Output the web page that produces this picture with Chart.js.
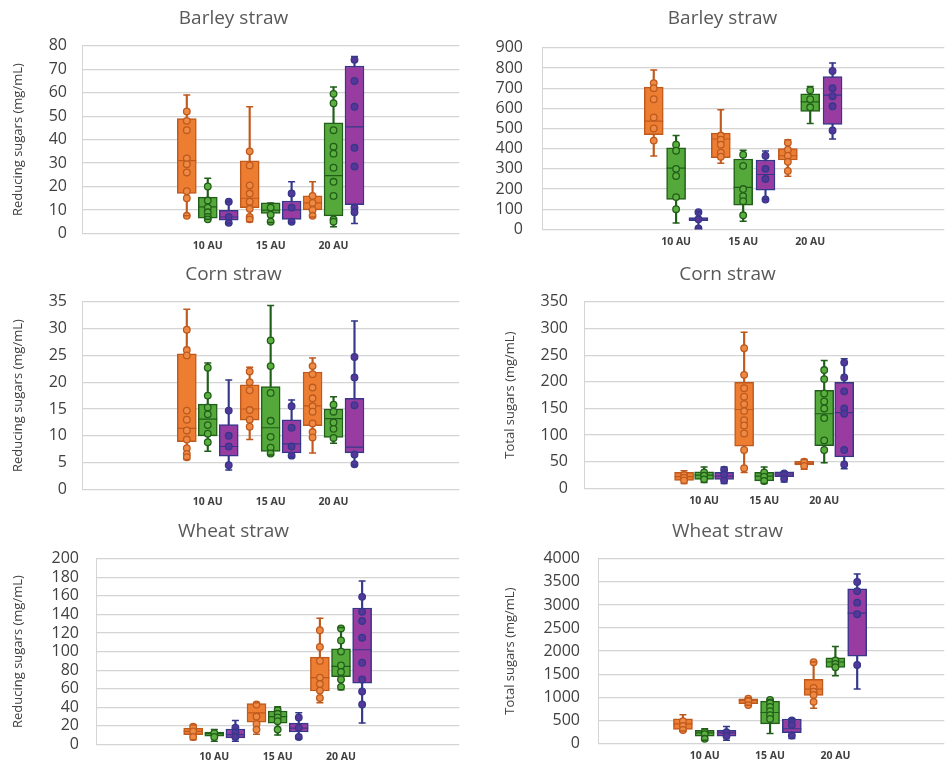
<!DOCTYPE html>
<html>
<head>
<meta charset="utf-8">
<script src="https://cdn.jsdelivr.net/npm/chart.js@4.4.1/dist/chart.umd.min.js"></script>
<style>
  html, body { margin: 0; padding: 0; background: #fff; overflow: hidden; width: 945px; height: 772px; }
  canvas { position: absolute; }
</style>
</head>
<body>
<canvas id="barleyRs" width="470" height="258" style="left:0;top:0"></canvas>
<canvas id="barleyTs" width="465" height="258" style="left:490px;top:0"></canvas>
<canvas id="cornRs" width="470" height="258" style="left:0;top:256px"></canvas>
<canvas id="cornTs" width="455" height="258" style="left:500px;top:256px"></canvas>
<canvas id="wheatRs" width="470" height="258" style="left:0;top:513px"></canvas>
<canvas id="wheatTs" width="455" height="258" style="left:500px;top:513px"></canvas>
<script>
const categories = ['10 AU', '15 AU', '20 AU'];

// box stats per category: [min, q1, median, q3, max]
// Barley straw - reducing sugars
const brsOrange = [[7.5, 17, 31, 49, 59], [5, 11, 15, 31, 54], [7, 10, 13, 16, 22]];
const brsGreen = [[6, 6.5, 11.3, 15.5, 23.5], [4.6, 8.5, 9.9, 13, 13], [2.8, 7.5, 24.6, 47.2, 62.4]];
const brsPurple = [[4.2, 5.6, 7, 9.8, 13.6], [4.6, 6, 10, 13.8, 22], [4.2, 12.3, 45.4, 71.4, 75.4]];
const brsOrangePts = [[52, 48, 44, 32, 29.5, 26, 18, 15, 7.5], [35, 29, 20.5, 17, 13.5, 10.5, 7, 6], [16, 13, 10, 7.5]];
const brsGreenPts = [[20, 14, 11, 9, 7, 6], [11, 8, 5], [59.5, 55.5, 44, 37, 34, 28, 22, 16, 6, 5]];
const brsPurplePts = [[13.5, 7, 4.5], [17, 11, 5], [74, 65, 54, 36.5, 28.5, 11, 9]];

// Barley straw - total sugars
const btsOrange = [[364, 469, 537, 705, 790], [328, 356, 448, 477, 593], [264, 344, 365, 400, 444]];
const btsGreen = [[32, 149, 304, 404, 465], [40, 120, 208, 349, 392], [525, 585, 632, 672, 708]];
const btsPurple = [[5, 43, 51, 59, 88], [149, 195, 272, 344, 388], [448, 520, 665, 757, 825]];
const btsOrangePts = [[725, 700, 645, 555, 500, 440], [465, 445, 420, 380, 360], [430, 395, 365, 335, 290]];
const btsGreenPts = [[420, 390, 300, 265, 160, 100], [370, 315, 200, 165, 140, 70], [690, 645, 605]];
const btsPurplePts = [[85, 50, 5], [365, 300, 250, 148], [785, 700, 660, 610, 490]];

// Corn straw - reducing sugars
const crsOrange = [[5.6, 8.9, 11.4, 25.3, 33.6], [9.3, 12.9, 15, 19.5, 22.8], [6.8, 11.9, 15.6, 21.9, 24.5]];
const crsGreen = [[7.1, 10, 13.1, 15.9, 23.6], [6.4, 7.1, 11.5, 19.2, 34.3], [8.6, 9.7, 13.2, 15, 17.3]];
const crsPurple = [[3.6, 6.2, 8, 12.1, 20.4], [6, 6.8, 8.5, 13, 16.7], [4.5, 6.8, 7.9, 17, 31.4]];
const crsOrangePts = [[29.8, 26, 25, 14.7, 13, 11, 9.3, 7.7, 6.6, 6], [22, 20, 18.5, 14.8, 13, 11.7], [23, 21.5, 19, 17, 15.5, 14.5, 12.3, 10.7, 9.7]];
const crsGreenPts = [[22.7, 17.5, 15.3, 14, 12, 10.4, 8.8], [27.8, 23, 18, 12.8, 9.8, 7.8, 6.7], [15.8, 14.5, 12.5, 11.3, 9.6]];
const crsPurplePts = [[14.7, 10, 8, 4.5], [15.5, 11.5, 8, 6.3], [24.7, 20.9, 15.7, 6.5, 4.7]];

// Corn straw - total sugars
const ctsOrange = [[9, 15, 22, 30, 33], [30, 79, 148, 199, 293], [36, 44, 47, 51, 54]];
const ctsGreen = [[11, 17, 25, 31, 40], [9, 14, 23, 30, 40], [48, 80, 140, 184, 240]];
const ctsPurple = [[9, 17, 23, 30, 40], [12, 22, 27, 31, 31], [37, 59, 142, 199, 243]];
const ctsOrangePts = [[25, 20, 15], [263, 213, 188, 172, 158, 145, 128, 118, 103, 72, 38], [50, 42]];
const ctsGreenPts = [[30, 24, 17], [30, 22, 14], [222, 205, 178, 163, 150, 132, 90, 72]];
const ctsPurplePts = [[35, 26, 15], [28, 18], [236, 208, 182, 150, 140, 72, 45]];

// Wheat straw - reducing sugars
const wrsOrange = [[5, 10.6, 14, 17.6, 21], [11, 24, 34, 44, 45], [45, 57.5, 72, 94, 136]];
const wrsGreen = [[3.5, 8.8, 11.6, 13.4, 16], [10, 23, 30, 36, 40.6], [59, 73, 84, 103, 126]];
const wrsPurple = [[3.5, 7, 10.6, 16.6, 25.7], [6, 13.4, 17.6, 23, 34], [23, 66, 102, 147, 176]];
const wrsOrangePts = [[19, 14, 8], [43, 30, 22, 16], [123, 105, 90, 72, 65, 58, 50]];
const wrsGreenPts = [[12, 8], [37, 33, 29, 25, 16], [125, 112, 100, 85, 78, 70, 62]];
const wrsPurplePts = [[18, 13, 8], [29, 18, 8], [159, 143, 133, 115, 88, 70, 57, 43]];

// Wheat straw - total sugars
const wtsOrange = [[268, 303, 423, 530, 620], [825, 860, 931, 966, 988], [762, 1037, 1178, 1390, 1764]];
const wtsGreen = [[70, 155, 226, 282, 317], [212, 423, 670, 917, 952], [1467, 1644, 1764, 1855, 2102]];
const wtsPurple = [[70, 155, 226, 282, 367], [106, 233, 317, 529, 529], [1178, 1890, 2822, 3351, 3668]];
const wtsOrangePts = [[480, 380, 290], [970, 920, 830], [1760, 1200, 1120, 1050, 900]];
const wtsGreenPts = [[250, 200, 100], [940, 870, 790, 700, 610, 530], [1800, 1720, 1650]];
const wtsPurplePts = [[240, 160], [500, 400, 170], [3500, 3300, 3050, 2800, 1700]];

const seriesStyle = [
  { fill: '#ED7D31', line: '#BF5A1E', dot: '#EF8A45' },
  { fill: '#55A83A', line: '#215E1A', dot: '#5BB03F' },
  { fill: '#983CA2', line: '#35388A', dot: '#55369A' }
];

// orange left of the category, green on it, purple right
function pos(cat, s) { return 6 + cat * 3 + s - 1; }

function buildPanel(id, p) {
  const datasets = [];
  p.boxes.forEach((stats, s) => {
    const st = seriesStyle[s];
    // whisker
    datasets.push({
      type: 'bar', order: 5, grouped: false, barThickness: 1.5,
      data: stats.map((b, i) => ({ x: pos(i, s), y: [b[0], b[4]] })),
      backgroundColor: st.line
    });
    // box
    datasets.push({
      type: 'bar', order: 4, grouped: false, barThickness: 19,
      data: stats.map((b, i) => ({ x: pos(i, s), y: [b[1], b[3]] })),
      backgroundColor: st.fill, borderColor: st.line, borderWidth: 1.5, borderSkipped: false
    });
    // median
    datasets.push({
      type: 'scatter', order: 3,
      data: stats.map((b, i) => ({ x: pos(i, s), y: b[2] })),
      pointStyle: 'line', pointRadius: 9.5, pointBorderColor: st.line, pointBorderWidth: 1.2
    });
    // data points
    datasets.push({
      type: 'scatter', order: 2,
      data: p.pts[s].flatMap((vals, i) => vals.map(v => ({ x: pos(i, s), y: v }))),
      pointStyle: 'circle', pointRadius: 3.3, pointBackgroundColor: st.dot,
      pointBorderColor: st.line, pointBorderWidth: 1.3
    });
    // whisker caps
    datasets.push({
      type: 'scatter', order: 1,
      data: stats.flatMap((b, i) => [{ x: pos(i, s), y: b[0] }, { x: pos(i, s), y: b[4] }]),
      pointStyle: 'line', pointRadius: 3.5, pointBorderColor: st.line, pointBorderWidth: 1.5
    });
  });

  new Chart(document.getElementById(id), {
    type: 'bar',
    data: { datasets },
    options: {
      responsive: false,
      animation: false,
      layout: { padding: { left: 0, right: p.padRight, top: 0, bottom: 0 } },
      plugins: {
        legend: { display: false },
        tooltip: { enabled: false },
        title: {
          display: true, text: p.title, color: '#595959',
          font: { family: 'Open Sans', size: 19, weight: 'normal' },
          padding: { top: 7, bottom: p.titleBottom }
        }
      },
      scales: {
        x: {
          type: 'linear', min: p.xMin, max: p.xMax, offset: false,
          grid: { display: false, drawTicks: false },
          border: { display: false },
          afterBuildTicks: sc => { sc.ticks = categories.map((c, i) => ({ value: pos(i, 1) })); },
          afterFit: sc => { sc.height = 23; },
          ticks: {
            autoSkip: false, maxRotation: 0, padding: 6, color: '#404040',
            font: { family: 'Open Sans', size: 10.5, weight: 'bold' },
            callback: (v, i) => categories[i]
          }
        },
        y: {
          min: 0, max: p.yMax,
          afterFit: sc => { sc.width = p.axisW; },
          grid: { color: '#d4d4d4', lineWidth: 1.2, drawTicks: false },
          border: { display: true, color: '#d4d4d4' },
          ticks: {
            stepSize: p.yStep, padding: p.tickPad, color: '#404040', autoSkip: false,
            font: { family: 'Open Sans', size: 16 },
            callback: v => String(v)
          },
          title: {
            display: !!p.yTitle, text: p.yTitle, color: '#404040',
            font: { family: 'Open Sans', size: 13 },
            padding: { top: p.yTitlePad, bottom: 0 }
          }
        }
      }
    }
  });
}

buildPanel('barleyRs', {
  title: 'Barley straw', yTitle: 'Reducing sugars (mg/mL)', yMax: 80, yStep: 10,
  boxes: [brsOrange, brsGreen, brsPurple], pts: [brsOrangePts, brsGreenPts, brsPurplePts],
  xMin: 0, xMax: 18, axisW: 82, padRight: 3, tickPad: 15, yTitlePad: 10.5, titleBottom: 16
});
buildPanel('barleyTs', {
  title: 'Barley straw', yTitle: '', yMax: 900, yStep: 100,
  boxes: [btsOrange, btsGreen, btsPurple], pts: [btsOrangePts, btsGreenPts, btsPurplePts],
  xMin: 0, xMax: 18, axisW: 52, padRight: 0, tickPad: 19, yTitlePad: 0, titleBottom: 18
});
buildPanel('cornRs', {
  title: 'Corn straw', yTitle: 'Reducing sugars (mg/mL)', yMax: 35, yStep: 5,
  boxes: [crsOrange, crsGreen, crsPurple], pts: [crsOrangePts, crsGreenPts, crsPurplePts],
  xMin: 0, xMax: 18, axisW: 82, padRight: 3, tickPad: 15, yTitlePad: 10.5, titleBottom: 16
});
buildPanel('cornTs', {
  title: 'Corn straw', yTitle: 'Total sugars (mg/mL)', yMax: 350, yStep: 50,
  boxes: [ctsOrange, ctsGreen, ctsPurple], pts: [ctsOrangePts, ctsGreenPts, ctsPurplePts],
  xMin: 0, xMax: 18, axisW: 84, padRight: 0, tickPad: 16, yTitlePad: 2.5, titleBottom: 16
});
buildPanel('wheatRs', {
  title: 'Wheat straw', yTitle: 'Reducing sugars (mg/mL)', yMax: 200, yStep: 20,
  boxes: [wrsOrange, wrsGreen, wrsPurple], pts: [wrsOrangePts, wrsGreenPts, wrsPurplePts],
  xMin: 0.4, xMax: 17.6, axisW: 96, padRight: 3, tickPad: 17, yTitlePad: 10.5, titleBottom: 16
});
buildPanel('wheatTs', {
  title: 'Wheat straw', yTitle: 'Total sugars (mg/mL)', yMax: 4000, yStep: 500,
  boxes: [wtsOrange, wtsGreen, wtsPurple], pts: [wtsOrangePts, wtsGreenPts, wtsPurplePts],
  xMin: 1.1, xMax: 17, axisW: 98, padRight: 0, tickPad: 18, yTitlePad: 2.5, titleBottom: 16
});
</script>
</body>
</html>
